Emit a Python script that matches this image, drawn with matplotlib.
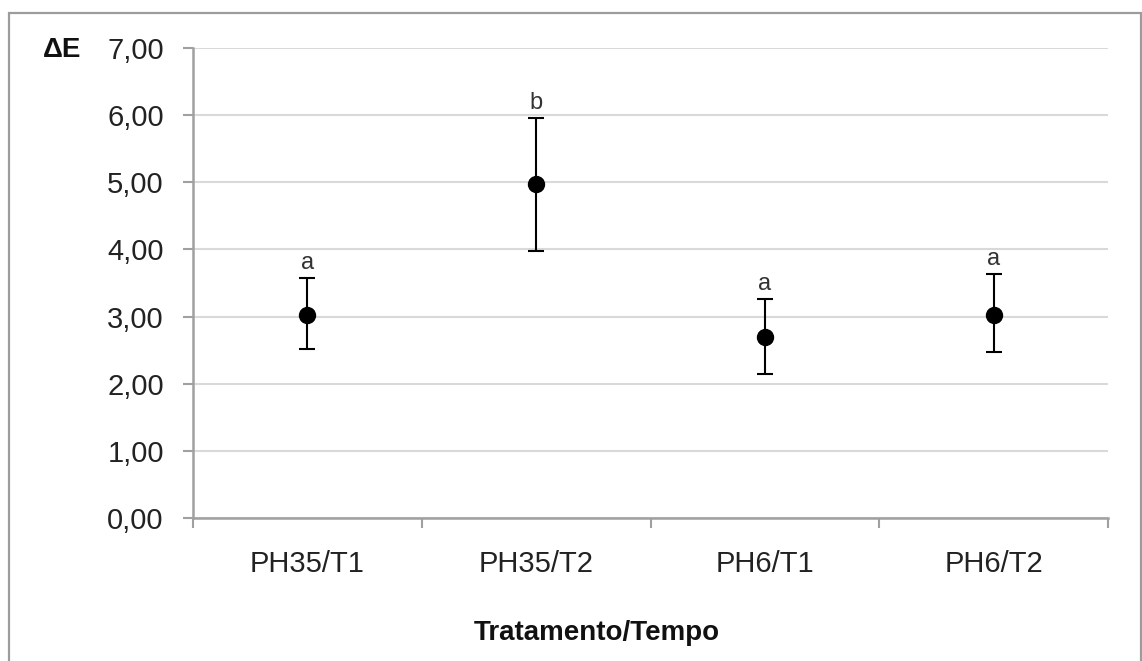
import matplotlib
matplotlib.use("Agg")
import matplotlib.pyplot as plt
from matplotlib.patches import Rectangle
from matplotlib.ticker import FixedLocator, FuncFormatter

categories = ["PH35/T1", "PH35/T2", "PH6/T1", "PH6/T2"]
means = [3.02, 4.97, 2.70, 3.02]
err_low = [0.50, 0.99, 0.55, 0.55]
err_high = [0.55, 0.99, 0.56, 0.61]
letters = ["a", "b", "a", "a"]
y_ticks = [0, 1, 2, 3, 4, 5, 6, 7]

plt.rcParams["font.family"] = ["Liberation Sans", "DejaVu Sans"]

fig = plt.figure(figsize=(11.42, 6.61), dpi=100)
ax = fig.add_axes([193 / 1142, 1 - 518 / 661, (1108 - 193) / 1142, (518 - 48) / 661])

# border around the whole figure
fig.patches.append(Rectangle((9 / 1142, -0.02), (1141 - 9) / 1142, 1.02 - 13 / 661,
                             transform=fig.transFigure, fill=False,
                             edgecolor="#9c9c9c", linewidth=1.6))

x = list(range(1, len(categories) + 1))
ax.errorbar(x, means, yerr=[err_low, err_high], fmt="o", color="black",
            markersize=11.5, elinewidth=1.5, capsize=5.8, capthick=1.5, zorder=3)

for xi, m, h, lab in zip(x, means, err_high, letters):
    ax.annotate(lab, (xi, m + h), xytext=(0, 3), textcoords="offset points",
                ha="center", va="bottom", fontsize=17, color="#333333")

ax.set_xlim(0.5, len(categories) + 0.5)
ax.set_ylim(0, 7)
ax.yaxis.set_major_locator(FixedLocator(y_ticks))
ax.yaxis.set_major_formatter(FuncFormatter(lambda v, p: f"{v:.2f}".replace(".", ",")))
ax.grid(axis="y", color="#d9d9d9", linewidth=1.5, zorder=0)
ax.set_axisbelow(True)

ax.xaxis.set_major_locator(FixedLocator([i + 0.5 for i in range(len(categories) + 1)]))
ax.xaxis.set_major_formatter(FuncFormatter(lambda v, p: ""))
ax.xaxis.set_minor_locator(FixedLocator(x))
ax.set_xticklabels(categories, minor=True)
ax.tick_params(axis="x", which="minor", length=0, pad=23, labelsize=21, labelcolor="#222222")
ax.tick_params(axis="x", which="major", length=7, width=1.5, color="#a0a0a0", direction="out")
ax.tick_params(axis="y", length=7, width=1.5, color="#a0a0a0", pad=14, labelsize=21,
               labelcolor="#222222")

for s in ["top", "right"]:
    ax.spines[s].set_visible(False)
for s in ["left", "bottom"]:
    ax.spines[s].set_color("#a0a0a0")
    ax.spines[s].set_linewidth(1.8)

fig.text(597 / 1142, 1 - 633 / 661, "Tratamento/Tempo", ha="center", va="center",
         fontsize=20, fontweight="bold", color="#111111")
fig.text(62 / 1142, 1 - 50 / 661, "ΔE", ha="center", va="center",
         fontsize=20, fontweight="bold", color="#111111")

fig.savefig("out.png", dpi=100)
